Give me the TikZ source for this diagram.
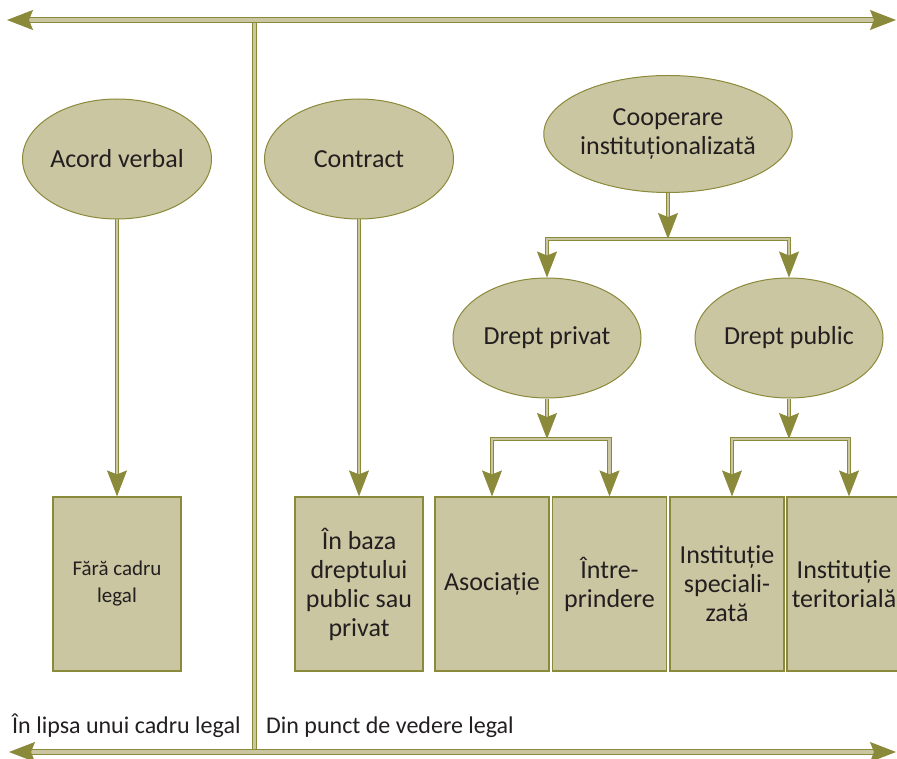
\documentclass[tikz,border=0pt]{standalone}
\usepackage{fontspec}
\setmainfont{Carlito}
\usetikzlibrary{arrows.meta,shapes.geometric,calc}
\definecolor{olv}{RGB}{139,137,58}
\definecolor{khaki}{RGB}{202,198,161}
\definecolor{txt}{RGB}{35,31,32}
\begin{document}
\begin{tikzpicture}[x=1pt,y=-1pt,
  ell/.style={ellipse, draw=olv, line width=1pt, fill=khaki, text=txt,
    font=\fontsize{26}{29}\selectfont, align=center, inner sep=0pt},
  box/.style={rectangle, draw=olv, line width=1.2pt, fill=khaki, text=txt,
    font=\fontsize{26}{29}\selectfont, align=center, minimum height=174pt, inner sep=0pt},
  conn/.style={draw=olv, double=khaki, line width=1pt, double distance=2.6pt},
  hconn/.style={draw=olv, double=khaki, line width=1.2pt, double distance=3.2pt},
  tip/.style={-{Stealth[length=26pt,width=20pt,inset=4pt,fill=olv]}},
  tips/.style={{Stealth[length=26pt,width=20pt,inset=4pt,fill=olv]}-{Stealth[length=26pt,width=20pt,inset=4pt,fill=olv]}},
  lbl/.style={text=txt, font=\fontsize{24}{28}\selectfont, inner sep=0pt, anchor=base west}]
\useasboundingbox (0,0) rectangle (897,759);
% frame
\coordinate (dtop) at (254.5,20);
\coordinate (dbot) at (254.5,752);
\coordinate (tl) at (7,20);
\coordinate (tr) at (896,20);
\coordinate (bl) at (9,752);
\coordinate (br) at (896,752);
\draw[conn] (dtop) -- (dbot);
\draw[hconn, tips] (tl) -- (tr);
\draw[hconn, tips] (bl) -- (br);
% ellipses
\node[ell, minimum width=189pt, minimum height=120pt] (av) at (117,159) {Acord verbal};
\node[ell, minimum width=189pt, minimum height=120pt] (ct) at (359,159) {Contract};
\node[ell, minimum width=240pt, minimum height=117pt] (co) at (668,134) {Cooperare\\instituționalizată};
\node[ell, minimum width=188pt, minimum height=120pt] (dpv) at (547,338) {Drept privat};
\node[ell, minimum width=188pt, minimum height=120pt] (dpb) at (789,338) {Drept public};
% boxes
\node[box, minimum width=128pt, font=\fontsize{21}{27}\selectfont] (b1) at (117,584) {Fără cadru\\legal};
\node[box, minimum width=128pt] (b2) at (359,584) {În baza\\dreptului\\public sau\\privat};
\node[box, minimum width=114pt] (b3) at (492,584) {Asociație};
\node[box, minimum width=114pt] (b4) at (609.5,584) {Între-\\prindere};
\node[box, minimum width=114pt] (b5) at (727,584) {Instituție\\speciali-\\zată};
\node[box, minimum width=114pt] (b6) at (844,584) {Instituție\\teritorială};
% connectors
\draw[conn, tip] (av.south) -- (b1.north);
\draw[conn, tip] (ct.south) -- (b2.north);
\coordinate (cobar) at (668,239);
\draw[conn, tip] (co.south) -- (cobar);
\draw[conn, tips] (dpv.north) |- (cobar) -| (dpb.north);
\coordinate (pvbar) at (547,439);
\draw[conn, tip] (dpv.south) -- (pvbar);
\draw[conn, tips] (b3.north) |- (pvbar) -| (b4.north);
\coordinate (pbbar) at (789,439);
\draw[conn, tip] (dpb.south) -- (pbbar);
\coordinate (b5t) at ($(b5.north)+(5,0)$);
\coordinate (b6t) at ($(b6.north)+(5,0)$);
\draw[conn, tips] (b5t) |- (pbbar) -| (b6t);
% labels
\node[lbl] (l1) at (12,733) {În lipsa unui cadru legal};
\node[lbl] (l2) at (266,733) {Din punct de vedere legal};
\end{tikzpicture}
\end{document}
